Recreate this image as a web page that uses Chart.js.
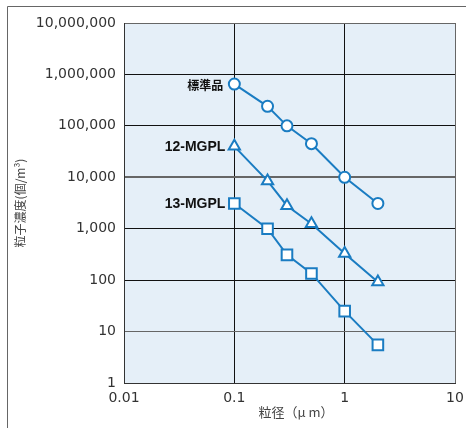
<!DOCTYPE html>
<html lang="ja">
<head>
<meta charset="utf-8">
<title>粒子濃度</title>
<script src="https://cdn.jsdelivr.net/npm/chart.js@4"></script>
<style>
  html, body { margin: 0; padding: 0; background: #fff; }
  canvas { display: block; }
</style>
</head>
<body>
<canvas id="particleChart" width="466" height="428"></canvas>
<script>
// Data
const particleSizes = [0.1, 0.2, 0.3, 0.5, 1, 2];          // 粒径 (μm)
const standardValues = [650000, 240000, 100000, 45000, 10000, 3100];
const mgpl12Values = [40000, 8500, 2800, 1250, 330, 92];
const mgpl13Values = [3100, 1000, 310, 135, 25, 5.5];
const seriesNames = ['標準品', '12-MGPL', '13-MGPL'];
const xTicks = [0.01, 0.1, 1, 10];
const yTicks = [1, 10, 100, 1000, 10000, 100000, 1000000, 10000000];

const blue = '#1a7cc2';

function toPoints(values) {
    return particleSizes.map((x, i) => ({ x: x, y: values[i] }));
}

// Light blue plot background + the outer frame lines
const plotBackground = {
    id: 'plotBackground',
    beforeDraw(chart) {
        const { ctx, chartArea: a } = chart;
        ctx.save();
        ctx.fillStyle = '#fff';
        ctx.fillRect(0, 0, chart.width, chart.height);
        ctx.fillStyle = '#e5eff8';
        ctx.fillRect(a.left, a.top, a.right - a.left, a.bottom - a.top);
        ctx.strokeStyle = '#666';
        ctx.lineWidth = 1;
        ctx.beginPath();
        ctx.moveTo(7.5, chart.height);
        ctx.lineTo(7.5, 6.5);
        ctx.lineTo(chart.width, 6.5);
        ctx.stroke();
        ctx.restore();
    }
};

// Series name written to the left of each first point
const seriesLabels = {
    id: 'seriesLabels',
    afterDatasetsDraw(chart) {
        const ctx = chart.ctx;
        chart.data.datasets.forEach((ds, i) => {
            const pt = chart.getDatasetMeta(i).data[0];
            if (!pt) return;
            ctx.save();
            ctx.font = ds.nameFont;
            ctx.fillStyle = '#111';
            ctx.textAlign = 'right';
            ctx.textBaseline = 'middle';
            ctx.fillText(ds.label, pt.x - ds.nameGap, pt.y + 1);
            ctx.restore();
        });
    }
};

const common = {
    borderColor: blue,
    borderWidth: 2,
    pointBackgroundColor: '#fff',
    pointBorderColor: blue,
    pointBorderWidth: 2,
    showLine: true,
    fill: false
};

new Chart(document.getElementById('particleChart'), {
    type: 'scatter',
    data: {
        datasets: [
            Object.assign({}, common, {
                label: seriesNames[0],
                data: toPoints(standardValues),
                pointStyle: 'circle',
                pointRadius: 5.5,
                nameFont: 'bold 12px "Noto Sans CJK JP"',
                nameGap: 11
            }),
            Object.assign({}, common, {
                label: seriesNames[1],
                data: toPoints(mgpl12Values),
                pointStyle: 'triangle',
                pointRadius: 6.5,
                nameFont: 'bold 14px "Liberation Sans", Arial, sans-serif',
                nameGap: 9
            }),
            Object.assign({}, common, {
                label: seriesNames[2],
                data: toPoints(mgpl13Values),
                pointStyle: 'rect',
                pointRadius: 7.5,
                nameFont: 'bold 14px "Liberation Sans", Arial, sans-serif',
                nameGap: 9
            })
        ]
    },
    options: {
        responsive: false,
        animation: false,
        layout: { padding: { top: 23, right: 11, left: 0, bottom: 0 } },
        plugins: {
            legend: { display: false },
            tooltip: { enabled: false }
        },
        scales: {
            x: {
                type: 'logarithmic',
                min: 0.01,
                max: 10,
                afterBuildTicks: s => { s.ticks = xTicks.map(v => ({ value: v })); },
                afterFit: s => {
                    s.height = 45;
                    s.paddingLeft = 0;
                    s.paddingRight = 0;
                },
                ticks: {
                    autoSkip: false,
                    maxRotation: 0,
                    padding: 7,
                    color: '#333',
                    font: { family: '"DejaVu Sans", sans-serif', size: 14 },
                    callback: v => String(v)
                },
                grid: {
                    drawTicks: false,
                    color: c => (c.tick && c.tick.value === 10) ? '#666' : '#111',
                    lineWidth: 1
                },
                border: { color: '#333', width: 1 },
                title: {
                    display: true,
                    text: '　粒径（μ m）',
                    color: '#444',
                    font: { family: '"Noto Sans CJK JP", sans-serif', size: 13 },
                    padding: { top: 8, bottom: 8 }
                }
            },
            y: {
                type: 'logarithmic',
                min: 1,
                max: 10000000,
                afterBuildTicks: s => { s.ticks = yTicks.map(v => ({ value: v })); },
                afterFit: s => { s.width = 124; },
                ticks: {
                    autoSkip: false,
                    padding: 8,
                    color: '#333',
                    font: { family: '"DejaVu Sans", sans-serif', size: 14 },
                    callback: v => Number(v).toLocaleString('en-US')
                },
                grid: {
                    drawTicks: false,
                    color: c => {
                        const v = c.tick && c.tick.value;
                        if (v === 10000 || v === 10 || v === 10000000) return '#666';
                        return '#111';
                    },
                    lineWidth: c => (c.tick && c.tick.value === 10000) ? 2 : 1
                },
                border: { color: '#333', width: 1 },
                title: {
                    display: true,
                    text: '粒子濃度(個/m³)',
                    color: '#444',
                    font: { family: '"Noto Sans CJK JP", sans-serif', size: 12 },
                    padding: { top: 13, bottom: 13 }
                }
            }
        }
    },
    plugins: [plotBackground, seriesLabels]
});
</script>
</body>
</html>
